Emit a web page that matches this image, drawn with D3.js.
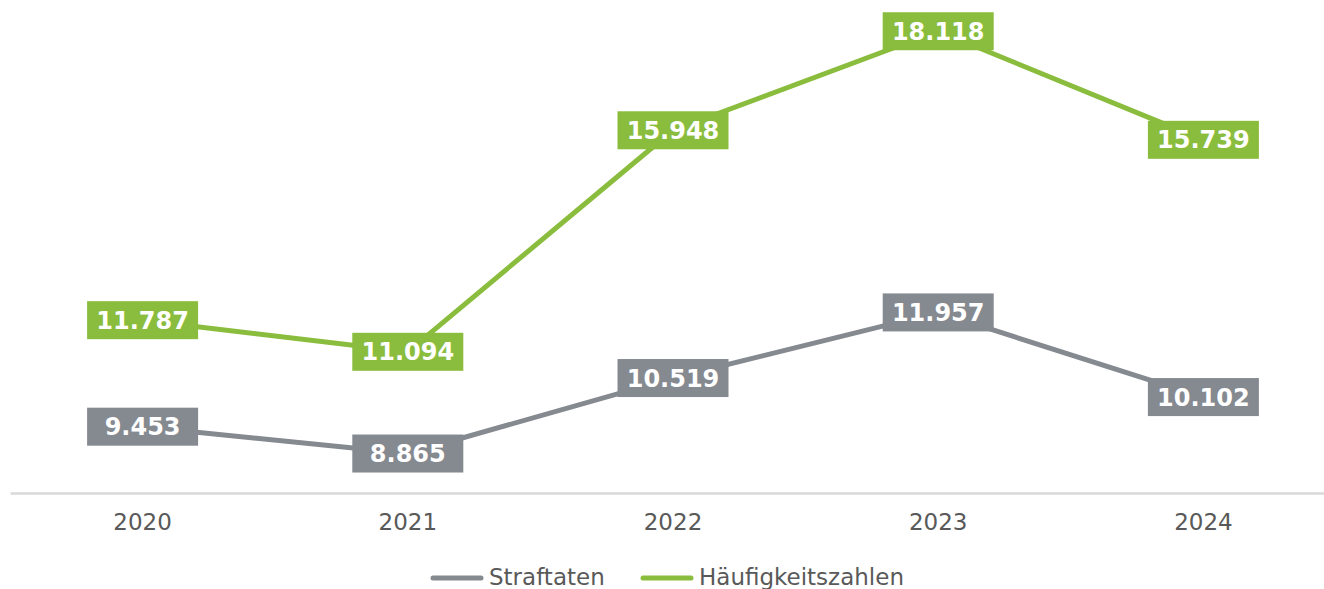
<!DOCTYPE html>
<html>
<head>
<meta charset="utf-8">
<script src="https://cdn.jsdelivr.net/npm/d3@7"></script>
<style>
  html, body { margin: 0; padding: 0; background: #fff; }
  svg { display: block; font-family: "DejaVu Sans", Verdana, sans-serif; }
</style>
</head>
<body>
<div id="chart"></div>
<script>
// Jahre und Werte (in Tausend, deutsche Schreibweise beim Label)
const years = ["2020", "2021", "2022", "2023", "2024"];
const straftaten = [9.453, 8.865, 10.519, 11.957, 10.102];
const haeufigkeit = [11.787, 11.094, 15.948, 18.118, 15.739];
const seriesNames = ["Straftaten", "Häufigkeitszahlen"];
const seriesColors = ["#858990", "#8abd3d"];

const width = 1324;
const height = 589;

const svg = d3.select("#chart")
    .append("svg")
    .attr("width", width)
    .attr("height", height);

const x = d3.scaleBand()
    .domain(years)
    .range([10, 1336]);

const y = d3.scaleLinear()
    .domain([8, 19])
    .range([493, -9]);

const cx = d => x(d) + x.bandwidth() / 2;

// Achse unten
const axis = svg.append("g")
    .attr("transform", `translate(0, ${y(8)})`)
    .call(d3.axisBottom(x).tickSize(0).tickPadding(21));

axis.select(".domain")
    .attr("stroke", "#d9d9d9")
    .attr("stroke-width", 2.5);

axis.selectAll("text")
    .attr("font-family", "DejaVu Sans, Verdana, sans-serif")
    .attr("font-size", "23px")
    .attr("fill", "#595959");

const fmt = v => v.toFixed(3);

const series = [straftaten, haeufigkeit];

const line = d3.line()
    .x((d, i) => cx(years[i]))
    .y(d => y(d));

series.forEach((values, s) => {
    svg.append("path")
        .datum(values)
        .attr("fill", "none")
        .attr("stroke", seriesColors[s])
        .attr("stroke-width", 5)
        .attr("stroke-linejoin", "round")
        .attr("d", line);
});

// Datenlabels mit Kasten
series.forEach((values, s) => {
    const g = svg.append("g");
    values.forEach((v, i) => {
        const lx = cx(years[i]);
        const ly = y(v);
        const boxW = 111;
        const boxH = 38;
        g.append("rect")
            .attr("x", lx - boxW / 2)
            .attr("y", ly - boxH / 2)
            .attr("width", boxW)
            .attr("height", boxH)
            .attr("fill", seriesColors[s]);
        g.append("text")
            .attr("x", lx)
            .attr("y", ly)
            .attr("dy", "0.36em")
            .attr("text-anchor", "middle")
            .attr("font-size", "24px")
            .attr("font-weight", "bold")
            .attr("fill", "#fff")
            .text(fmt(v));
    });
});

// Legende
const legendItems = [
    { name: seriesNames[0], color: seriesColors[0], x: 433 },
    { name: seriesNames[1], color: seriesColors[1], x: 643 }
];

legendItems.forEach(item => {
    svg.append("line")
        .attr("x1", item.x)
        .attr("x2", item.x + 48)
        .attr("y1", 578)
        .attr("y2", 578)
        .attr("stroke", item.color)
        .attr("stroke-width", 5)
        .attr("stroke-linecap", "round");
    svg.append("text")
        .attr("x", item.x + 56)
        .attr("y", 585)
        .attr("font-size", "23px")
        .attr("fill", "#595959")
        .text(item.name);
});
</script>
</body>
</html>
